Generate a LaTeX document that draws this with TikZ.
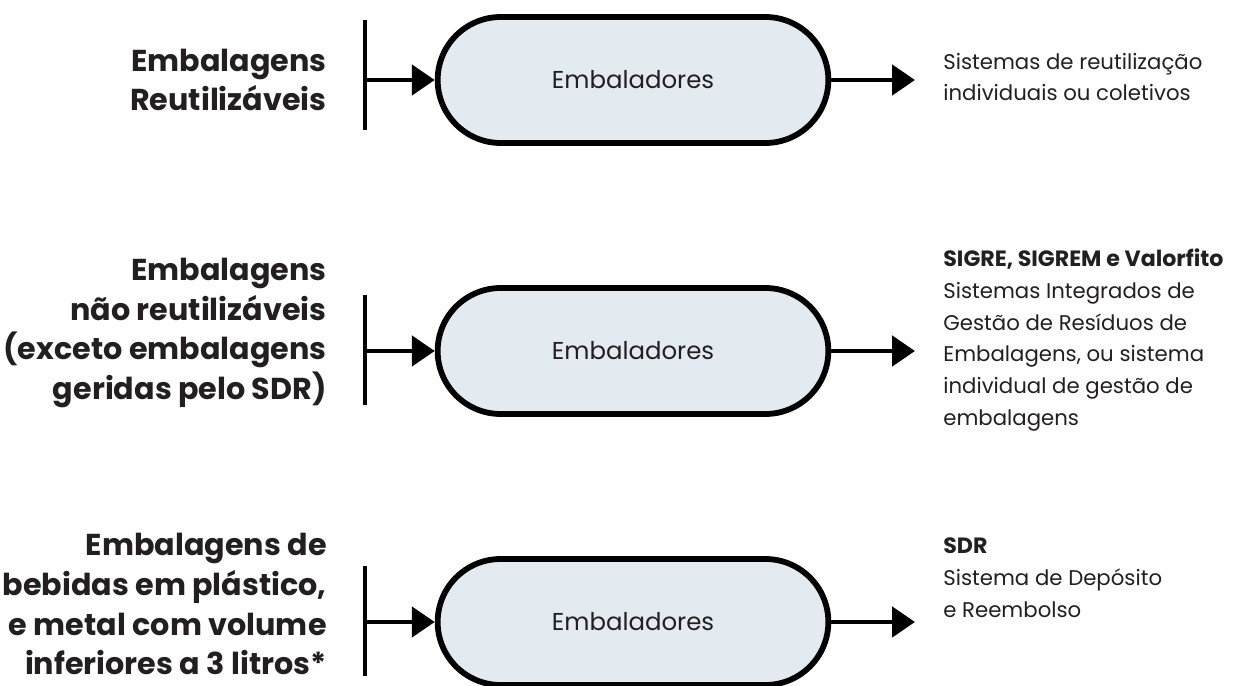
\documentclass[tikz,border=0pt]{standalone}
\usepackage{fontspec}
\setmainfont{Poppins}
\usepackage{tikz}
\usetikzlibrary{shapes.misc,arrows.meta,positioning}
\definecolor{pillfill}{HTML}{E3EBF1}
\definecolor{inktext}{HTML}{231F20}
\tikzset{
	pillbox/.style={rounded rectangle, draw=black, line width=3.3pt, fill=pillfill,
		minimum width=8.05cm, minimum height=2.52cm, font=\fontsize{13.9}{16}\selectfont, text=inktext},
	flowarr/.style={-{Triangle[length=13pt,width=17pt]}, line width=2.7pt},
	barline/.style={line width=2.7pt},
	catlabel/.style={align=right, anchor=east, font=\fontsize{17.2}{22.7}\selectfont\bfseries, text=inktext, inner sep=0pt},
	syslabel/.style={align=left, anchor=west, font=\fontsize{12.1}{18.1}\selectfont, text=inktext, inner sep=0pt}
}
\newcommand{\syshd}[1]{{\fontsize{12.6}{18.1}\selectfont\bfseries #1}}
\begin{document}
\begin{tikzpicture}[x=0.02cm, y=-0.02cm]
	\useasboundingbox (0,0) rectangle (1249,686);
	% row 1
	\node[pillbox] (pa) at (633,80) {Embaladores};
	\coordinate (ta) at (365,20);
	\coordinate (ba) at (365,130);
	\coordinate (ia) at (365,80);
	\coordinate (oa) at (915,80);
	\draw[barline] (ta) -- (ba);
	\draw[flowarr] (ia) -- (pa.west);
	\draw[flowarr] (pa.east) -- (oa);
	\node[catlabel] (ca) at (327,80) {Embalagens\\Reutilizáveis};
	\node[syslabel] (sa) at (943,77) {Sistemas de reutilização\\individuais ou coletivos};
	% row 2
	\node[pillbox] (pb) at (633,351) {Embaladores};
	\coordinate (tb) at (365,295);
	\coordinate (bb) at (365,405);
	\coordinate (ib) at (365,351);
	\coordinate (ob) at (915,351);
	\draw[barline] (tb) -- (bb);
	\draw[flowarr] (ib) -- (pb.west);
	\draw[flowarr] (pb.east) -- (ob);
	\node[catlabel] (cb) at (327,333) {Embalagens\\não reutilizáveis\\(exceto embalagens\\geridas pelo SDR)};
	\node[syslabel] (sb) at (943,340) {\syshd{SIGRE, SIGREM e Valorfito}\\Sistemas Integrados de\\Gestão de Resíduos de\\Embalagens, ou sistema\\individual de gestão de\\embalagens};
	% row 3
	\node[pillbox] (pc) at (633,622) {Embaladores};
	\coordinate (tc) at (365,566);
	\coordinate (bc) at (365,676);
	\coordinate (ic) at (365,622);
	\coordinate (oc) at (915,622);
	\draw[barline] (tc) -- (bc);
	\draw[flowarr] (ic) -- (pc.west);
	\draw[flowarr] (pc.east) -- (oc);
	\node[catlabel] (cc) at (327,604) {Embalagens de\\bebidas em plástico,\\e metal com volume\\inferiores a 3 litros*};
	\node[syslabel] (sc) at (943,578) {\syshd{SDR}\\Sistema de Depósito\\e Reembolso};
\end{tikzpicture}
\end{document}
